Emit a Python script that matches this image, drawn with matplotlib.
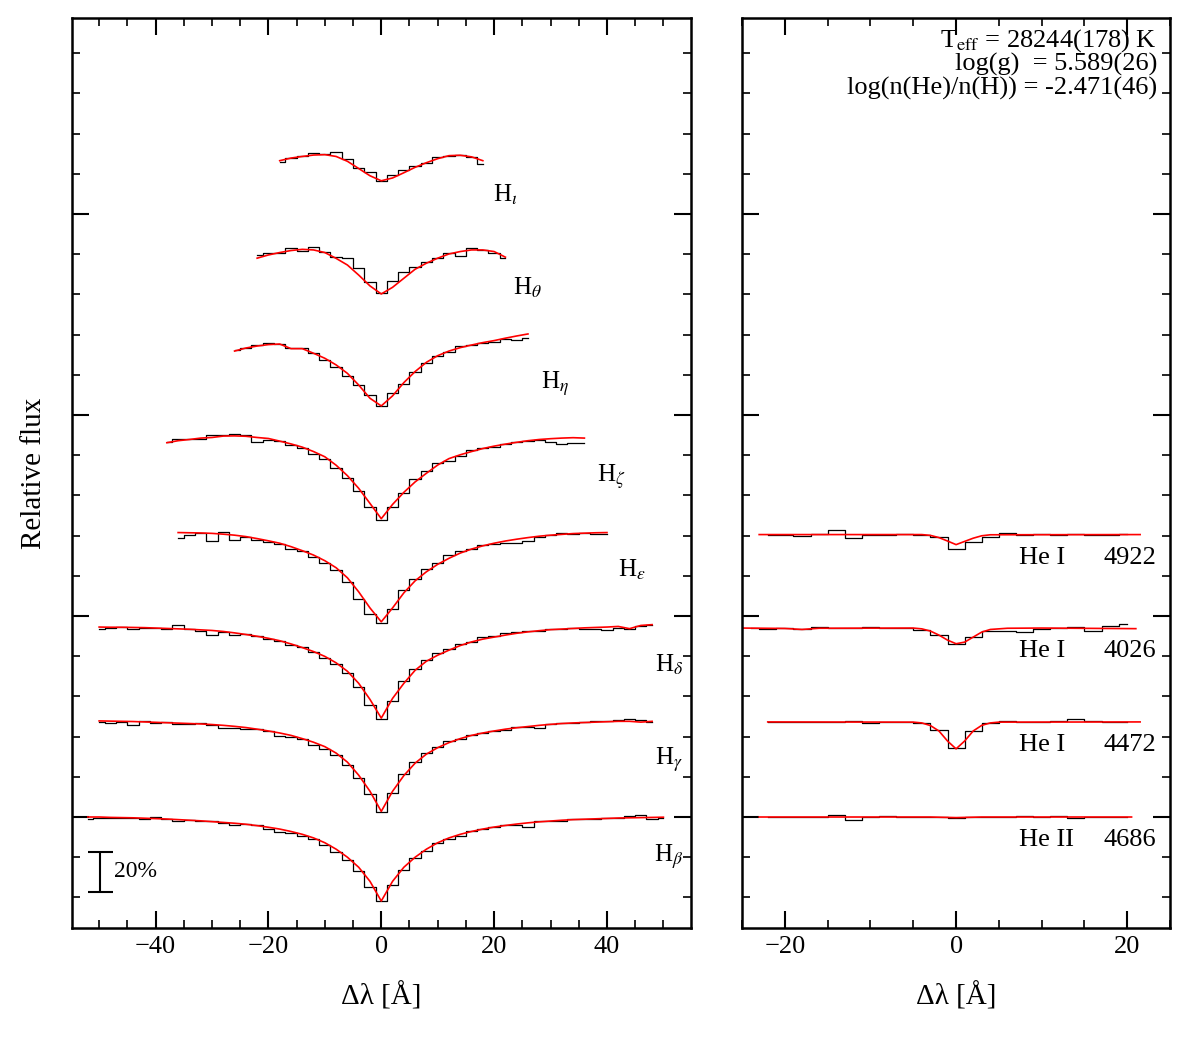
import numpy as np
import matplotlib
matplotlib.use('Agg')
from matplotlib import pyplot as plt
from matplotlib.ticker import MultipleLocator

plt.rcParams['font.family'] = ['Liberation Serif', 'DejaVu Serif']
plt.rcParams['mathtext.fontset'] = 'stix'

#--------Balmer lines (flux normalised to 1, 2 A bins)--------
balmer_names = [r'H$_\beta$', r'H$_\gamma$', r'H$_\delta$', r'H$_\varepsilon$',
                r'H$_\zeta$', r'H$_\eta$', r'H$_\theta$', r'H$_\iota$']
balmer_offset = [0.0, 0.478, 0.945, 1.415, 1.89, 2.35, 2.82, 3.28]
balmer_lo = [-52, -50, -50, -36, -38, -26, -22, -18]
balmer_hi = [50, 48, 48, 40, 36, 26, 22, 18]

hb_obs = [0.990, 0.997, 0.996, 0.994, 0.997, 0.992, 1.000, 0.988, 0.982, 0.986, 0.978, 0.980, 0.970,
          0.962, 0.964, 0.960, 0.940, 0.925, 0.918, 0.908, 0.890, 0.862, 0.828, 0.785, 0.730, 0.650,
          0.580, 0.660, 0.735, 0.795, 0.830, 0.870, 0.892, 0.908, 0.930, 0.938, 0.952, 0.960, 0.962,
          0.948, 0.978, 0.982, 0.980, 0.988, 0.992, 0.990, 0.996, 0.994, 1.004, 1.010, 0.988, 0.996]
hb_mod = [1.000, 1.000, 0.998, 0.997, 0.996, 0.994, 0.992, 0.990, 0.987, 0.984, 0.981, 0.977, 0.973,
          0.969, 0.964, 0.957, 0.949, 0.940, 0.928, 0.914, 0.896, 0.872, 0.840, 0.800, 0.750, 0.680,
          0.582, 0.680, 0.750, 0.800, 0.840, 0.872, 0.896, 0.914, 0.928, 0.940, 0.950, 0.958, 0.965,
          0.971, 0.976, 0.980, 0.984, 0.987, 0.989, 0.991, 0.993, 0.995, 0.996, 0.997, 0.998, 0.999]

hg_obs = [0.995, 0.992, 0.996, 0.982, 1.000, 0.990, 0.996, 0.986, 0.984, 0.990, 0.980, 0.965, 0.966,
          0.962, 0.960, 0.948, 0.926, 0.922, 0.910, 0.882, 0.860, 0.830, 0.782, 0.715, 0.635, 0.545,
          0.640, 0.735, 0.795, 0.840, 0.870, 0.900, 0.910, 0.930, 0.940, 0.950, 0.955, 0.970, 0.970,
          0.964, 0.984, 0.988, 0.992, 0.994, 0.998, 1.002, 1.004, 1.008, 1.004, 0.996]
hg_mod = [1.000, 0.999, 0.998, 0.997, 0.995, 0.993, 0.991, 0.989, 0.987, 0.985, 0.982, 0.978, 0.973,
          0.967, 0.959, 0.950, 0.940, 0.928, 0.912, 0.894, 0.872, 0.840, 0.795, 0.730, 0.650, 0.550,
          0.650, 0.728, 0.790, 0.835, 0.867, 0.892, 0.912, 0.928, 0.940, 0.950, 0.959, 0.966, 0.972,
          0.978, 0.983, 0.987, 0.990, 0.992, 0.994, 0.996, 0.998, 0.998, 0.994, 0.998]

hd_obs = [0.992, 0.996, 0.998, 0.990, 0.996, 0.994, 0.988, 1.008, 0.990, 0.980, 0.960, 0.975, 0.962,
          0.966, 0.954, 0.940, 0.930, 0.910, 0.902, 0.875, 0.845, 0.815, 0.770, 0.700, 0.610, 0.542,
          0.630, 0.730, 0.790, 0.835, 0.870, 0.892, 0.915, 0.925, 0.950, 0.956, 0.970, 0.974, 0.980,
          0.978, 0.992, 0.990, 0.996, 0.988, 0.990, 0.986, 0.994, 0.988, 1.004, 1.012]
hd_mod = [1.000, 0.999, 0.999, 0.998, 0.997, 0.995, 0.993, 0.991, 0.989, 0.986, 0.983, 0.978, 0.971,
          0.963, 0.954, 0.944, 0.932, 0.916, 0.898, 0.878, 0.854, 0.822, 0.780, 0.720, 0.640, 0.547,
          0.645, 0.720, 0.785, 0.830, 0.860, 0.885, 0.908, 0.926, 0.940, 0.950, 0.960, 0.969, 0.976,
          0.982, 0.987, 0.990, 0.993, 0.996, 0.998, 1.000, 1.003, 0.992, 1.008, 1.012]

he_obs_bal = [0.972, 0.988, 0.996, 0.960, 1.004, 0.965, 0.980, 0.964, 0.955, 0.945, 0.920, 0.908, 0.880,
              0.850, 0.815, 0.755, 0.670, 0.595, 0.550, 0.620, 0.715, 0.770, 0.820, 0.850, 0.888, 0.910,
              0.920, 0.938, 0.942, 0.950, 0.950, 0.960, 0.980, 0.990, 0.996, 0.992, 0.996, 0.994, 0.992]
he_mod_bal = [1.000, 0.999, 0.998, 0.996, 0.992, 0.987, 0.980, 0.970, 0.959, 0.947, 0.930, 0.910, 0.888,
              0.860, 0.825, 0.775, 0.705, 0.625, 0.556, 0.625, 0.700, 0.760, 0.805, 0.842, 0.872, 0.898,
              0.918, 0.934, 0.947, 0.958, 0.967, 0.975, 0.982, 0.987, 0.991, 0.995, 0.997, 0.999, 1.000]

hz_obs = [0.975, 0.988, 0.990, 0.992, 1.010, 1.012, 1.015, 1.012, 0.975, 0.985, 0.982, 0.962, 0.945,
          0.915, 0.890, 0.845, 0.795, 0.730, 0.650, 0.590, 0.650, 0.720, 0.790, 0.830, 0.870, 0.880,
          0.905, 0.935, 0.945, 0.950, 0.965, 0.975, 0.980, 0.985, 0.975, 0.965, 0.972, 0.970]
hz_mod = [0.972, 0.982, 0.988, 0.995, 0.998, 1.005, 1.006, 1.004, 0.998, 0.993, 0.980, 0.966, 0.950,
          0.928, 0.902, 0.860, 0.808, 0.745, 0.670, 0.594, 0.665, 0.725, 0.777, 0.820, 0.861, 0.893,
          0.912, 0.928, 0.943, 0.955, 0.965, 0.974, 0.982, 0.988, 0.992, 0.995, 0.997, 0.995]

heta_obs = [0.975, 0.985, 1.000, 1.006, 1.003, 0.982, 0.983, 0.958, 0.925, 0.890, 0.845, 0.800, 0.750,
            0.695, 0.760, 0.805, 0.865, 0.910, 0.945, 0.965, 0.995, 0.998, 1.010, 1.015, 1.027, 1.022, 1.032]
heta_mod = [0.968, 0.983, 0.993, 1.000, 1.003, 0.980, 0.980, 0.957, 0.932, 0.899, 0.857, 0.799, 0.733,
            0.695, 0.745, 0.811, 0.866, 0.912, 0.945, 0.968, 0.985, 0.998, 1.010, 1.020, 1.032, 1.043, 1.053]

hth_obs = [0.975, 0.985, 0.988, 1.010, 0.998, 1.015, 0.990, 0.965, 0.960, 0.910, 0.840, 0.785, 0.845,
           0.890, 0.915, 0.940, 0.960, 0.985, 0.970, 1.012, 1.000, 0.985, 0.960]
hth_mod = [0.960, 0.976, 0.988, 0.998, 1.004, 1.001, 0.988, 0.959, 0.926, 0.876, 0.822, 0.782, 0.815,
           0.860, 0.905, 0.935, 0.960, 0.981, 0.993, 1.001, 1.001, 0.993, 0.965]

hi_obs = [0.980, 1.000, 1.008, 1.025, 1.018, 1.030, 0.995, 0.950, 0.930, 0.885, 0.915, 0.940, 0.960,
          0.975, 1.005, 1.010, 1.013, 1.005, 0.970]
hi_mod = [0.985, 0.998, 1.006, 1.013, 1.015, 1.006, 0.982, 0.946, 0.910, 0.885, 0.899, 0.925, 0.952,
          0.975, 0.995, 1.010, 1.012, 1.004, 0.985]

balmer_obs = [hb_obs, hg_obs, hd_obs, he_obs_bal, hz_obs, heta_obs, hth_obs, hi_obs]
balmer_mod = [hb_mod, hg_mod, hd_mod, he_mod_bal, hz_mod, heta_mod, hth_mod, hi_mod]

#--------Helium lines--------
he_names = ['He I', 'He I', 'He I', 'He II']
he_waves = ['4922', '4026', '4472', '4686']
he_offset = [1.405, 0.94, 0.473, 0.0]
he_lo = [-22, -24, -22, -22]
he_hi = [20, 20, 20, 20]

he4922_obs = [1.000, 0.998, 0.992, 1.004, 1.025, 0.982, 1.000, 0.998, 1.002, 0.996, 0.988, 0.930,
              0.962, 0.990, 1.008, 1.000, 1.002, 0.998, 1.004, 1.000, 0.998, 1.002]
he4026_obs = [1.000, 0.996, 1.002, 0.996, 1.004, 0.998, 1.000, 1.003, 1.000, 0.998, 0.990, 0.965,
              0.920, 0.955, 0.985, 0.985, 0.982, 0.995, 1.000, 1.003, 0.985, 1.010, 1.022]
he4472_obs = [1.000, 0.998, 1.002, 0.998, 1.000, 1.003, 0.997, 1.000, 1.002, 0.996, 0.960, 0.870,
              0.955, 0.995, 1.004, 1.002, 1.000, 1.006, 1.015, 1.003, 0.998, 1.002]
he4686_obs = [1.000, 1.002, 0.998, 1.000, 1.010, 0.985, 1.000, 1.003, 0.998, 1.000, 1.002, 0.996,
              1.000, 0.998, 1.002, 1.006, 1.000, 1.003, 0.997, 1.000, 1.002, 0.998]

he4922_mx = [-23, -4, -3, -2, -1, 0, 1, 2, 3, 4, 21.5]
he4922_mf = [1.000, 1.000, 0.996, 0.985, 0.968, 0.950, 0.966, 0.982, 0.994, 0.999, 1.000]
he4026_mx = [-25, -20, -18, -16, -5, -4, -3, -2, -1, 0, 1, 2, 3, 4, 6, 10, 21]
he4026_mf = [1.000, 0.998, 0.993, 0.999, 1.000, 0.996, 0.985, 0.965, 0.940, 0.922, 0.930, 0.955,
             0.980, 0.993, 0.999, 1.000, 0.997]
he4472_mx = [-22, -5, -4, -3, -2, -1, 0, 1, 2, 3, 4, 5, 21.5]
he4472_mf = [1.000, 0.999, 0.995, 0.982, 0.955, 0.905, 0.866, 0.905, 0.955, 0.983, 0.995, 0.999, 1.000]
he4686_mx = [-23, -3, 0, 3, 20.5]
he4686_mf = [1.000, 1.000, 0.997, 1.000, 1.000]

he_obs = [he4922_obs, he4026_obs, he4472_obs, he4686_obs]
he_mx = [he4922_mx, he4026_mx, he4472_mx, he4686_mx]
he_mf = [he4922_mf, he4026_mf, he4472_mf, he4686_mf]

params = ['T$_{\\rm eff}$ = 28244(178) K', 'log(g)  = 5.589(26)', 'log(n(He)/n(H)) = -2.471(46)']

#--------figure--------
fig = plt.figure(figsize=(11.89, 10.38), dpi=100)
ax1 = fig.add_axes([0.0606, 0.1060, 0.5206, 0.8767])
ax2 = fig.add_axes([0.6241, 0.1060, 0.3600, 0.8767])

label_x = [51.0, 51.0, 51.0, 44.5, 40.8, 30.8, 26.0, 22.0]
for i in range(len(balmer_names)):
    x = np.arange(balmer_lo[i], balmer_hi[i] + 1, 2)
    off = balmer_offset[i]
    ax1.step(x, np.array(balmer_obs[i]) + off - 1, where='mid', color='k', lw=0.9)
    ax1.plot(x, np.array(balmer_mod[i]) + off - 1, color='red', lw=1.2)
    ax1.text(label_x[i], off - 0.22, balmer_names[i], ha='center', va='baseline', fontsize=18)

# 20% scale bar
ax1.errorbar([-49.8], [-0.273], yerr=[0.1], color='k', capsize=9, elinewidth=1.5, capthick=1.5)
ax1.text(-47.4, -0.27, '20%', ha='left', va='center', fontsize=17)

for i in range(len(he_names)):
    x = np.arange(he_lo[i], he_hi[i] + 1, 2)
    off = he_offset[i]
    ax2.step(x, np.array(he_obs[i]) + off - 1, where='mid', color='k', lw=0.9)
    ax2.plot(he_mx[i], np.array(he_mf[i]) + off - 1, color='red', lw=1.2)
    ax2.text(7.4, off - 0.145, he_names[i], ha='left', va='baseline', fontsize=19)
    ax2.text(23.4, off - 0.145, he_waves[i], ha='right', va='baseline', fontsize=19)

for j, s in enumerate(params):
    ax2.text(0.970, 0.975 - 0.0265 * j, s, transform=ax2.transAxes, ha='right', va='center', fontsize=19)

ax1.set_xlim(-54.8, 54.9)
ax2.set_xlim(-25, 25)
for ax in (ax1, ax2):
    ax.set_ylim(-0.552, 3.975)
    ax.xaxis.set_major_locator(MultipleLocator(20))
    ax.xaxis.set_minor_locator(MultipleLocator(5))
    ax.yaxis.set_major_locator(MultipleLocator(1))
    ax.yaxis.set_minor_locator(MultipleLocator(0.2))
    ax.tick_params(which='both', direction='in', top=True, right=True, labelleft=False)
    ax.tick_params(which='major', length=12, width=1.5, labelsize=19, pad=6)
    ax.tick_params(which='minor', length=5.5, width=1.2)
    for sp in ax.spines.values():
        sp.set_linewidth(1.8)
    ax.set_xlabel('Δλ [Å]', fontsize=21, labelpad=17)

ax1.set_ylabel('Relative flux', fontsize=21, labelpad=18)

fig.savefig('out.png', dpi=100)
